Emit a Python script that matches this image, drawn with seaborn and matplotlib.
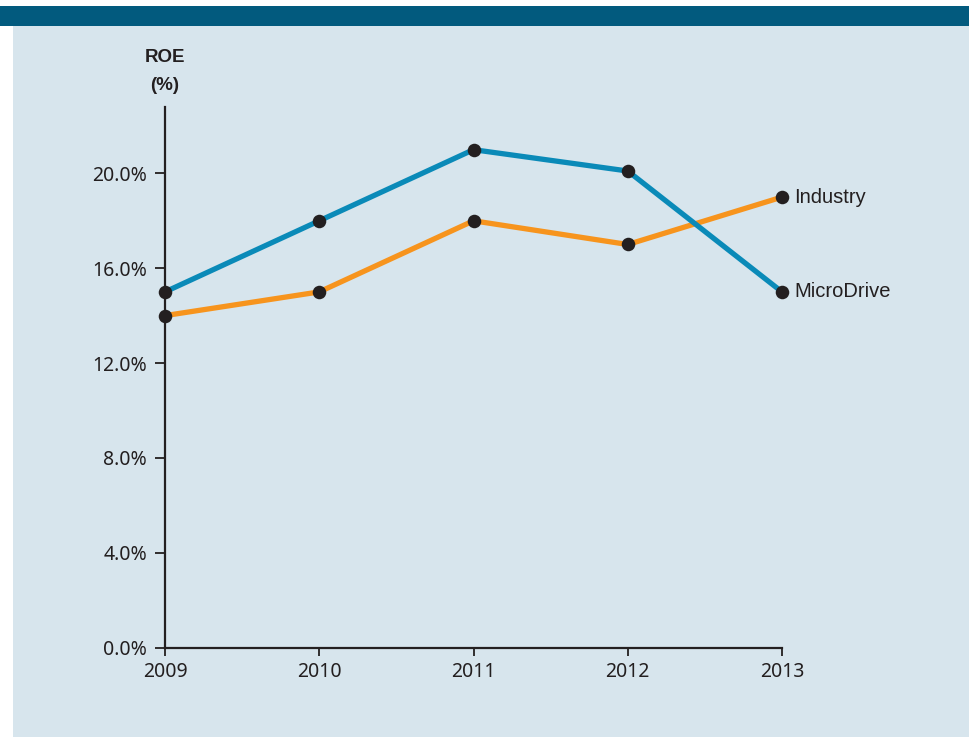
import matplotlib
matplotlib.use("Agg")
import matplotlib.pyplot as plt
from matplotlib.patches import Rectangle
import pandas as pd
import seaborn as sns

years = [2009, 2010, 2011, 2012, 2013]
microdrive = [15.0, 18.0, 21.0, 20.1, 15.0]
industry = [14.0, 15.0, 18.0, 17.0, 19.0]
series_names = ["Industry", "MicroDrive"]
y_ticks = [0, 4, 8, 12, 16, 20]
y_tick_labels = ["0.0%", "4.0%", "8.0%", "12.0%", "16.0%", "20.0%"]

BG = "#d7e5ed"
BAR = "#025a7e"
INK = "#231f20"
BLUE = "#0a8ab8"
ORANGE = "#f7941d"

df = pd.DataFrame({
    "year": years * 2,
    "roe": industry + microdrive,
    "series": [series_names[0]] * len(years) + [series_names[1]] * len(years),
})

sns.set_theme(style="white")
plt.rcParams["font.family"] = ["Noto Sans", "DejaVu Sans"]
narrow = ["Liberation Sans Narrow", "Liberation Sans", "DejaVu Sans"]

W, H = 969, 737
fig = plt.figure(figsize=(W / 100, H / 100), dpi=100, facecolor="white")
# panel background and header band
fig.patches.append(Rectangle((13 / W, 0), 1 - 13 / W, 1 - 26 / H,
                             transform=fig.transFigure, facecolor=BG,
                             edgecolor="none", zorder=-10))
fig.patches.append(Rectangle((0, 1 - 26 / H), 1, 20 / H,
                             transform=fig.transFigure, facecolor=BAR,
                             edgecolor="none", zorder=-10))

x0, x1 = 165 / W, 782 / W
y0, y1 = 1 - 647.5 / H, 1 - 107 / H
ax = fig.add_axes([x0, y0, x1 - x0, y1 - y0])
ax.set_zorder(5)
ax.set_facecolor("none")

sns.lineplot(data=df, x="year", y="roe", hue="series",
             palette={"Industry": ORANGE, "MicroDrive": BLUE},
             hue_order=series_names, linewidth=3.8, legend=False,
             ax=ax, clip_on=False, solid_capstyle="round")
sns.scatterplot(data=df, x="year", y="roe", color=INK, s=95,
                edgecolor=INK, linewidth=0, legend=False, ax=ax,
                clip_on=False, zorder=5)

ax.set_xlim(2009, 2013)
ax.set_ylim(0, 22.8)
ax.set_xticks(years)
ax.set_xticklabels([str(y) for y in years])
ax.set_yticks(y_ticks)
ax.set_yticklabels(y_tick_labels)
ax.set_xlabel("")
ax.set_ylabel("")

for side in ("top", "right"):
    ax.spines[side].set_visible(False)
for side in ("left", "bottom"):
    ax.spines[side].set_color(INK)
    ax.spines[side].set_linewidth(1.6)

ax.tick_params(axis="y", direction="out", length=7.5, width=1.3,
               color=INK, labelcolor=INK, labelsize=14, pad=5.5, left=True)
ax.tick_params(axis="x", direction="out", length=6, width=1.3,
               color=INK, labelcolor=INK, labelsize=14, pad=4.5, bottom=True)

# end-of-line series labels
for name, vals in (("Industry", industry), ("MicroDrive", microdrive)):
    ax.annotate(name, (years[-1], vals[-1]), xytext=(9, 0),
                textcoords="offset points", va="center", ha="left",
                fontsize=14.5, color=INK, family=narrow)

fig.text(x0, 1 - 58 / H, "ROE", ha="center", va="center",
         fontsize=13.5, fontweight="bold", color=INK, family=narrow)
fig.text(x0, 1 - 85 / H, "(%)", ha="center", va="center",
         fontsize=13.5, fontweight="bold", color=INK, family=narrow)

fig.savefig("out.png", dpi=100, facecolor="white")
